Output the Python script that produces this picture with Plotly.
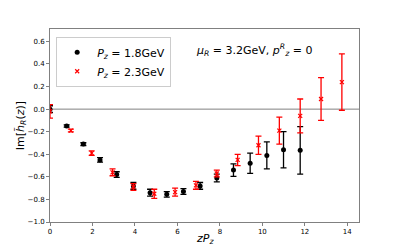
import plotly.graph_objects as go

# Pz = 1.8 GeV
x_a = [0.0, 0.785, 1.571, 2.356, 3.142, 3.927, 4.712, 5.498, 6.283, 7.069, 7.854, 8.639, 9.425, 10.21, 10.996, 11.781]
y_a = [0.0, -0.15, -0.31, -0.45, -0.58, -0.68, -0.74, -0.755, -0.73, -0.68, -0.61, -0.54, -0.48, -0.41, -0.36, -0.365]
e_a = [0.03, 0.01, 0.012, 0.02, 0.025, 0.03, 0.03, 0.025, 0.025, 0.03, 0.035, 0.055, 0.09, 0.12, 0.16, 0.21]

# Pz = 2.3 GeV
x_b = [0.0, 0.982, 1.963, 2.945, 3.927, 4.909, 5.890, 6.872, 7.854, 8.836, 9.817, 10.799, 11.781, 12.763, 13.744]
y_b = [-0.02, -0.19, -0.39, -0.56, -0.69, -0.75, -0.735, -0.675, -0.57, -0.45, -0.32, -0.19, -0.06, 0.09, 0.24]
e_b = [0.06, 0.012, 0.02, 0.03, 0.03, 0.04, 0.035, 0.035, 0.03, 0.05, 0.08, 0.12, 0.15, 0.19, 0.25]

x_ticks = [0, 2, 4, 6, 8, 10, 12, 14]
y_ticks = [-1.0, -0.8, -0.6, -0.4, -0.2, 0.0, 0.2, 0.4, 0.6]
y_tick_text = ["\u22121.0", "\u22120.8", "\u22120.6", "\u22120.4", "\u22120.2", "0.0", "0.2", "0.4", "0.6"]

fig = go.Figure()

fig.add_trace(go.Scatter(
    x=x_a, y=y_a, mode="markers",
    marker=dict(color="black", size=5, symbol="circle"),
    error_y=dict(type="data", array=e_a, visible=True, color="black", thickness=1.3, width=3),
    name="<i>P<sub>z</sub></i> = 1.8GeV",
))
fig.add_trace(go.Scatter(
    x=x_b, y=y_b, mode="markers",
    marker=dict(color="red", size=4, symbol="x-thin", line=dict(color="red", width=1.2)),
    error_y=dict(type="data", array=e_b, visible=True, color="red", thickness=1.3, width=3),
    name="<i>P<sub>z</sub></i> = 2.3GeV",
))

fig.add_shape(type="line", xref="paper", yref="y", x0=0, x1=1, y0=0, y1=0,
              line=dict(color="#808080", width=1), layer="below")

fig.add_annotation(
    xref="paper", yref="paper", x=0.853, y=0.945, xanchor="right", yanchor="top",
    text="<i>\u03bc<sub>R</sub></i> = 3.2GeV, <i>p<sup>R</sup><sub>z</sub></i> = 0",
    showarrow=False, font=dict(family="DejaVu Sans", size=11, color="black"),
)
fig.add_annotation(
    xref="paper", yref="paper", x=0.5, y=-0.088, xanchor="center", yanchor="middle",
    text="<i>zP<sub>z</sub></i>", showarrow=False,
    font=dict(family="DejaVu Sans", size=11, color="black"),
)
fig.add_annotation(
    xref="paper", yref="paper", x=-0.095, y=0.5, xanchor="center", yanchor="middle",
    text="Im[<i>h\u0303<sub>R</sub></i>(<i>z</i>)]", showarrow=False, textangle=-90,
    font=dict(family="DejaVu Sans", size=11, color="black"),
)

axis_common = dict(
    showgrid=False, zeroline=False, showline=True, linecolor="#808080", linewidth=1,
    mirror=True, ticks="outside", ticklen=3, tickcolor="#808080", automargin=False,
    tickfont=dict(family="DejaVu Sans", size=7, color="black"),
)

fig.update_layout(
    width=399, height=249,
    margin=dict(l=50, r=40, t=29, b=27),
    paper_bgcolor="white", plot_bgcolor="white",
    xaxis=dict(range=[0, 14.55], tickvals=x_ticks, **axis_common),
    yaxis=dict(range=[-1.0, 0.71], tickvals=y_ticks, ticktext=y_tick_text, **axis_common),
    legend=dict(x=0.02, y=0.96, xanchor="left", yanchor="top",
                bgcolor="rgba(255,255,255,0.8)", bordercolor="#cccccc", borderwidth=1,
                font=dict(family="DejaVu Sans", size=11, color="black"),
                tracegroupgap=0, itemwidth=30),
    showlegend=True,
)

fig.write_html("out.html", config={"displayModeBar": False},
               post_script="document.body.style.margin='0';document.body.style.overflow='hidden';")
